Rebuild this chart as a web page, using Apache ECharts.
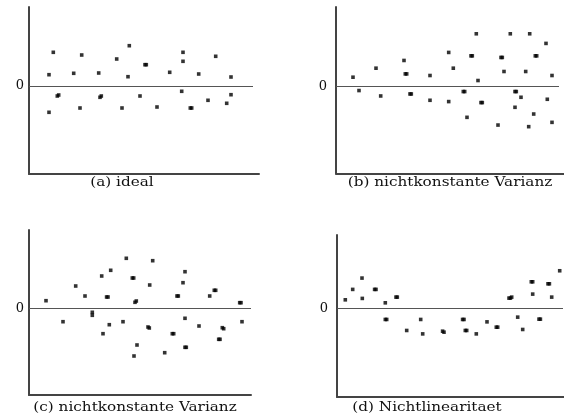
<!DOCTYPE html>
<html>
<head>
<meta charset="utf-8">
<script src="https://cdn.jsdelivr.net/npm/echarts@6/dist/echarts.min.js"></script>
<style>html,body{margin:0;padding:0;background:#fff}#c{width:564px;height:420px}</style>
</head>
<body>
<div id="c"></div>
<script>
// Panel captions
const captions = ['(a) ideal', '(b) nichtkonstante Varianz', '(c) nichtkonstante Varianz', '(d) Nichtlinearitaet'];

// (a) ideal: [x, residual]
const pointsA = [
  [24.3,3.37],[20,1.13],[28.3,-1.0],[29.7,-0.9],[20,-2.63],[52.7,3.1],[44.7,1.27],[51,-2.2],
  [69.7,1.3],[71,-1.13],[72.3,-1.0],[87.7,2.7],[100.3,4.03],[99,0.93],[93,-2.2],[116,2.13],
  [117.3,2.13],[111,-1.0],[128,-2.1],[140.7,1.37],[154,3.37],[154,2.47],[152.7,-0.53],
  [161.3,-2.2],[162.7,-2.2],[169.7,1.2],[179,-1.43],[186.7,2.97],[197.7,-1.73],[202,0.9],[202,-0.87]
];
// (b) nichtkonstante Varianz (wachsend)
const pointsB = [
  [17,0.9],[23,-0.43],[40,1.8],[44.7,-0.97],[68,2.57],[69.3,1.23],[70.7,1.23],[74,-0.77],[75.3,-0.77],
  [94,1.07],[94,-1.4],[112.7,3.37],[117.3,1.8],[112.7,-1.53],[127.3,-0.53],[128.7,-0.53],[131,-3.1],
  [135,3.03],[136.3,3.03],[140.3,5.23],[142,0.57],[145,-1.63],[146.3,-1.63],[162,-3.87],[165,2.87],
  [166.3,2.87],[168,1.47],[174.3,5.23],[179,-0.53],[180.3,-0.53],[185,-1.1],[179,-2.1],[189.7,1.47],
  [193.7,5.23],[199.3,3.03],[200.7,3.03],[197.7,-2.77],[192.7,-4.03],[210,4.27],[211.3,-1.3],
  [216,1.07],[216,-3.6]
];
// (c) nichtkonstante Varianz (Bauch)
const pointsC = [
  [17,0.76],[34,-1.34],[46.7,2.23],[56,1.23],[63.3,-0.4],[63.3,-0.7],[72.7,3.23],[74,-2.54],
  [77.6,1.13],[79,1.13],[80.3,-1.64],[81.7,3.8],[94,-1.34],[97.3,5.0],[103.3,3.03],[104.7,3.03],
  [106,0.6],[107.3,0.73],[105,-4.77],[108,-3.67],[119,-1.87],[120.3,-1.97],[120.7,2.33],[123.7,4.76],
  [135.7,-4.44],[143.3,-2.54],[144.7,-2.54],[148,1.23],[149.3,1.23],[154,2.56],[156,3.66],[156,-1.0],
  [156,-3.9],[157.3,-3.9],[170,-1.77],[180.7,1.23],[185.3,1.8],[186.7,1.8],[189.7,-3.1],[191,-3.1],
  [193.3,-1.94],[194.7,-2.04],[210.7,0.56],[212,0.56],[213,-1.34]
];
// (d) Nichtlinearitaet
const pointsD = [
  [8.3,0.86],[15.7,1.9],[25,3.03],[25.3,1.0],[37.6,1.9],[39,1.9],[48.3,0.56],[48.3,-1.1],[49.7,-1.1],
  [59,1.13],[60.3,1.13],[69.7,-2.2],[83.7,-1.1],[85.7,-2.54],[105.6,-2.27],[107,-2.37],[125.6,-1.1],
  [127,-1.1],[128.3,-2.2],[129.7,-2.2],[139.3,-2.54],[150,-1.34],[159.3,-1.87],[160.7,-1.87],
  [172,1.03],[173.4,1.03],[174.7,1.13],[180.7,-0.87],[185.7,-2.1],[194.3,2.66],[195.7,2.66],
  [195.7,1.43],[202,-1.07],[203.4,-1.07],[211,2.46],[212.4,2.46],[214.7,1.13],[222.7,3.76]
];
// axis ranges per panel
const xMax = [230, 228, 222, 227];
const yMin = [-8.8, -8.7, -8.67, -8.84];
const yMax = [7.9, 7.9, 7.83, 7.33];
const zeroEnd = [224, 223, 222, 226];
const zeroTick = [0];

const panels = [pointsA, pointsB, pointsC, pointsD];
const grids = [
  {left: 29, top: 7, width: 230, height: 167},
  {left: 336, top: 7, width: 228, height: 166.5},
  {left: 29, top: 230, width: 222, height: 165},
  {left: 337, top: 235, width: 227, height: 162}
];
const labelMargin = [5, 9, 5, 9];
const capPos = [[122,183],[450,183],[135,408],[427,408]];
const font = 'DejaVu Serif';
const axisCol = '#444';

const chart = echarts.init(document.getElementById('c'), null, {renderer: 'canvas'});
const option = {
  animation: false,
  backgroundColor: '#fff',
  grid: grids.map(g => Object.assign({containLabel: false}, g)),
  xAxis: panels.map((p, i) => ({
    type: 'value', gridIndex: i, min: 0, max: xMax[i],
    axisLine: {show: true, onZero: false, lineStyle: {color: axisCol, width: 2}},
    axisTick: {show: false}, axisLabel: {show: false}, splitLine: {show: false}
  })),
  yAxis: panels.map((p, i) => ({
    type: 'value', gridIndex: i, min: yMin[i], max: yMax[i],
    axisLine: {show: true, onZero: false, lineStyle: {color: axisCol, width: 2}},
    axisTick: {show: false},
    axisLabel: {show: true, customValues: zeroTick, formatter: v => String(Math.round(v)), margin: labelMargin[i],
      color: '#111', fontFamily: font, fontSize: 13},
    splitLine: {show: false}
  })),
  series: panels.map((p, i) => ({
    type: 'scatter', xAxisIndex: i, yAxisIndex: i, data: p,
    symbol: 'rect', symbolSize: 3.6, itemStyle: {color: '#000'},
    markLine: {
      silent: true, symbol: 'none', label: {show: false},
      lineStyle: {color: '#555', width: 1, type: 'solid'},
      data: [[{coord: [0, 0]}, {coord: [zeroEnd[i], 0]}]]
    }
  })),
  graphic: captions.map((t, i) => ({
    type: 'text', x: capPos[i][0], y: capPos[i][1], scaleX: 1.22,
    style: {text: t, fill: '#111', font: '12.5px "' + font + '"', textAlign: 'center', textVerticalAlign: 'middle'}
  }))
};
chart.setOption(option);
</script>
</body>
</html>
